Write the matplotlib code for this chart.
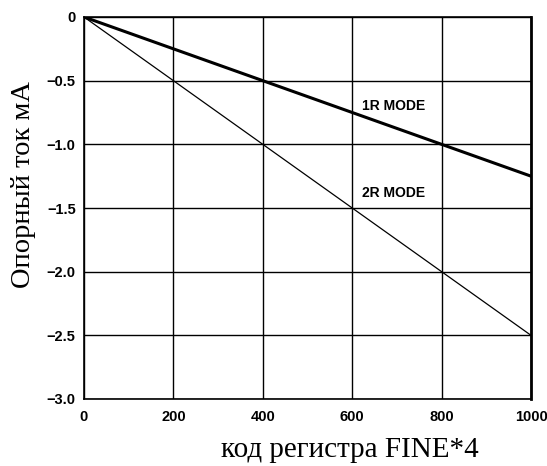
import numpy as np
import matplotlib.pyplot as plt

# данные
code = [0, 1000]
mode_1r = [0, -1.25]
mode_2r = [0, -2.5]
xticks = [0, 200, 400, 600, 800, 1000]
yticks = [0, -0.5, -1.0, -1.5, -2.0, -2.5, -3.0]
ytick_labels = ['0', '\u22120.5', '\u22121.0', '\u22121.5', '\u22122.0', '\u22122.5', '\u22123.0']

W, H = 547, 466
fig = plt.figure(figsize=(W / 100, H / 100), dpi=100)
ax = fig.add_axes([84 / W, 1 - 399 / H, 447 / W, 382 / H])

ax.plot(code, mode_1r, color='black', lw=2.2)
ax.plot(code, mode_2r, color='black', lw=0.9)

ax.set_xlim(0, 1000)
ax.set_ylim(-3.0, 0)
ax.set_xticks(xticks)
ax.set_yticks(yticks)
ax.set_yticklabels(ytick_labels)
ax.grid(True, color='black', lw=1.0)
ax.tick_params(axis='x', length=0, pad=8)
ax.tick_params(axis='y', length=0, pad=6)
for lab in ax.get_xticklabels() + ax.get_yticklabels():
    lab.set_fontfamily('Liberation Sans')
    lab.set_fontweight('bold')
    lab.set_fontsize(10.5)
for s in ax.spines.values():
    s.set_linewidth(1.2)
ax.spines['right'].set_linewidth(2)

ax.text(622, -0.73, '1R MODE', fontsize=10, fontweight='bold', family='Liberation Sans', va='baseline')
ax.text(622, -1.414, '2R MODE', fontsize=10, fontweight='bold', family='Liberation Sans', va='baseline')

# подписи осей
fig.text(24 / W, 1 - 185 / H, 'Опорный ток мА', family='Liberation Serif', fontsize=20.5,
         rotation=90, ha='center', va='center')
fig.text(350 / W, 1 - 457 / H, 'код регистра FINE*4', family='Liberation Serif', fontsize=21,
         ha='center', va='baseline')

fig.savefig('out.png', dpi=100)
